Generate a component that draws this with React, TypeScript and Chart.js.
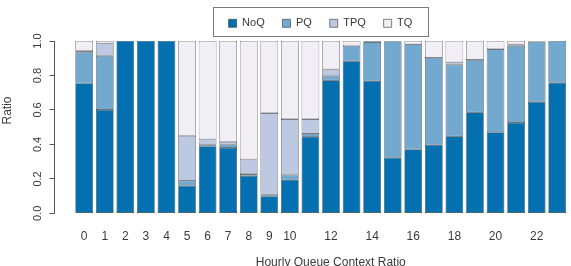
import React, { useEffect, useRef } from "react";
import { Chart, registerables } from "chart.js";

Chart.register(...registerables);

// ---- data ----
const hours = [0, 1, 2, 3, 4, 5, 6, 7, 8, 9, 10, 11, 12, 13, 14, 15, 16, 17, 18, 19, 20, 21, 22, 23];
const tickLabels = ["0", "1", "2", "3", "4", "5", "6", "7", "8", "9", "10", "", "12", "", "14", "", "16", "", "18", "", "20", "", "22", ""];
const yTicks = [0, 0.2, 0.4, 0.6, 0.8, 1.0];
const seriesNames = ["NoQ", "PQ", "TPQ", "TQ"];
const noQ = [0.755, 0.6, 1, 1, 1, 0.16, 0.39, 0.38, 0.218, 0.1, 0.196, 0.445, 0.772, 0.882, 0.769, 0.324, 0.372, 0.398, 0.447, 0.586, 0.471, 0.525, 0.647, 0.759];
const pQ = [0.179, 0.314, 0, 0, 0, 0.03, 0.01, 0.02, 0.01, 0.01, 0.026, 0.016, 0.024, 0.089, 0.225, 0.673, 0.609, 0.504, 0.416, 0.304, 0.482, 0.447, 0.348, 0.241];
const tpQ = [0.009, 0.072, 0, 0, 0, 0.26, 0.03, 0.015, 0.086, 0.472, 0.325, 0.086, 0.039, 0, 0.003, 0, 0, 0, 0.013, 0, 0, 0.008, 0.003, 0];
const tQ = [0.057, 0.014, 0, 0, 0, 0.55, 0.57, 0.585, 0.686, 0.418, 0.453, 0.453, 0.165, 0.029, 0.003, 0.003, 0.019, 0.098, 0.124, 0.11, 0.047, 0.02, 0.002, 0];
const colors = ["#0570b0", "#74a9cf", "#bdc9e1", "#f1eef6"];
const xTitle = "Hourly Queue Context Ratio";
const yTitle = "Ratio";

// ---- layout constants ----
const CANVAS_W = 641;
const CANVAS_H = 272;
const Y_AXIS_W = 54.5;
const RIGHT_SPACE = 34;
const X_MIN = -1.444;
const X_MAX = 25.42;
const LEGEND_EXTRA = 2.2;
const TEXT = "#3a3a3a";
const LINE = "#555555";

const legendFrame = {
  id: "legendFrame",
  beforeUpdate(chart: any) {
    const lg = chart.legend;
    if (lg && !lg._patched) {
      const f = lg.fit;
      lg.fit = function () {
        f.call(this);
        if (this.options.display) this.height += LEGEND_EXTRA;
      };
      lg._patched = true;
    }
  },
  afterDraw(chart: any) {
    const lg = chart.legend;
    if (!lg || !lg.legendHitBoxes || !lg.legendHitBoxes.length) return;
    const hb = lg.legendHitBoxes;
    const l = Math.min(...hb.map((h: any) => h.left));
    const r = Math.max(...hb.map((h: any) => h.left + h.width));
    const cy = hb[0].top + hb[0].height / 2;
    const ctx = chart.ctx;
    ctx.save();
    ctx.strokeStyle = "#7a7a7a";
    ctx.lineWidth = 1;
    const x0 = Math.round(l - 16) + 0.5;
    const x1 = Math.round(r + 16) + 0.5;
    const y0 = Math.round(cy - 16) + 0.5;
    const y1 = Math.round(cy + 12.7) + 0.5;
    ctx.strokeRect(x0, y0, x1 - x0, y1 - y0);
    ctx.restore();
  },
};

export default function App() {
  const ref = useRef<HTMLCanvasElement | null>(null);

  useEffect(() => {
    if (!ref.current) return;
    Chart.defaults.font.family = "'Liberation Sans', Arial, sans-serif";
    Chart.defaults.color = TEXT;
    const series = [noQ, pQ, tpQ, tQ];
    const chart = new Chart(ref.current, {
      type: "bar",
      data: {
        datasets: series.map((vals, si) => ({
          label: seriesNames[si],
          data: hours.map((h, i) => ({ x: h, y: vals[i] })),
          backgroundColor: colors[si],
          borderColor: "#333333",
          borderWidth: 0.6,
          borderSkipped: false,
          categoryPercentage: 1,
          barPercentage: 0.86,
        })),
      },
      options: {
        animation: false,
        responsive: false,
        devicePixelRatio: 1,
        layout: { padding: 0 },
        plugins: {
          tooltip: { enabled: false },
          legend: {
            display: true,
            position: "top",
            align: "center",
            labels: {
              boxWidth: 8,
              boxHeight: 8,
              padding: 17.8,
              color: TEXT,
              font: { size: 11 },
            },
          },
        },
        scales: {
          x: {
            type: "linear",
            stacked: true,
            min: X_MIN,
            max: X_MAX,
            offset: false,
            grid: { display: false, drawTicks: false },
            border: { display: false },
            afterBuildTicks: (scale: any) => {
              scale.ticks = hours.map((v) => ({ value: v }));
            },
            ticks: {
              autoSkip: false,
              minRotation: 0,
              maxRotation: 0,
              padding: 16.4,
              color: TEXT,
              font: { size: 12 },
              callback: (_v: any, index: number) => tickLabels[index],
            },
            title: {
              display: true,
              text: xTitle,
              color: TEXT,
              font: { size: 12 },
              padding: { top: -5, bottom: 2 },
            },
          },
          y: {
            type: "linear",
            stacked: true,
            min: 0,
            max: 1,
            position: "left",
            afterBuildTicks: (scale: any) => {
              scale.ticks = yTicks.map((v) => ({ value: v }));
            },
            afterFit: (scale: any) => {
              scale.width = Y_AXIS_W;
            },
            grid: {
              display: true,
              drawOnChartArea: false,
              drawTicks: true,
              tickLength: 5,
              color: LINE,
              lineWidth: 1,
            },
            border: { display: true, color: LINE, width: 1 },
            ticks: {
              minRotation: 90,
              maxRotation: 90,
              crossAlign: "center",
              padding: 3.5,
              color: TEXT,
              font: { size: 11 },
              callback: (v: any) => Number(v).toFixed(1),
            },
            title: {
              display: true,
              text: "          " + yTitle,
              color: TEXT,
              font: { size: 12 },
              padding: { top: 0, bottom: 0 },
            },
          },
          y2: {
            type: "linear",
            position: "right",
            display: true,
            grid: { display: false },
            border: { display: false },
            ticks: { display: false },
            afterFit: (scale: any) => {
              scale.width = RIGHT_SPACE;
            },
          },
        },
      },
      plugins: [legendFrame],
    } as any);
    return () => chart.destroy();
  }, []);

  return (
    <div
      style={{
        position: "fixed",
        left: 0,
        top: 0,
        width: 571,
        height: 266,
        overflow: "hidden",
        background: "#ffffff",
      }}
    >
      <canvas ref={ref} width={CANVAS_W} height={CANVAS_H} style={{ display: "block" }} />
    </div>
  );
}
